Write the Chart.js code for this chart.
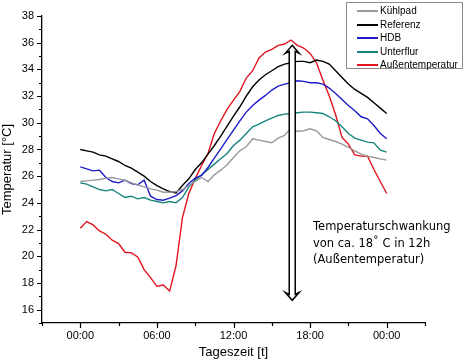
<!DOCTYPE html>
<html>
<head>
<meta charset="utf-8">
<script src="https://cdn.jsdelivr.net/npm/chart.js@4.4.0/dist/chart.umd.min.js"></script>
<style>
  html, body { margin: 0; padding: 0; background: #fff; }
  #wrap { position: relative; width: 465px; height: 360px; }
  #legend { position: absolute; left: 346px; top: 2px; width: 115px; height: 65px;
    border: 1px solid #8a8a8a; background: #fff; font: 10px "Liberation Sans", Arial, sans-serif; color: #000; }
  #legend .row { position: absolute; left: 0; height: 13px; line-height: 13px; white-space: nowrap; }
  #legend .sw { position: absolute; left: 10px; top: 6px; width: 21px; height: 2px; }
  #legend .tx { position: absolute; left: 33px; top: 0; }
  #note { position: absolute; left: 313px; top: 218px; font: 11.5px "DejaVu Sans", Verdana, sans-serif;
    line-height: 16.5px; color: #000; white-space: nowrap; }
</style>
</head>
<body>
<div id="wrap">
  <canvas id="c" width="465" height="360"></canvas>
  <div id="legend"></div>
  <div id="note"></div>
</div>
<script>
// ---- data ----
const hours = [0,0.5,1,1.5,2,2.5,3,3.5,4,4.5,5,5.5,6,6.5,7,7.5,8,8.5,9,9.5,10,10.5,11,11.5,12,12.5,13,13.5,14,14.5,15,15.5,16,16.5,17,17.5,18,18.5,19,19.5,20,20.5,21,21.5,22,22.5,23,23.5,24];
const seriesNames = ['Kühlpad','Referenz','HDB','Unterflur','Außentemperatur'];
const kuehlpad = [25.6,25.65,25.7,25.75,25.85,25.9,25.8,25.7,25.5,25.35,25.2,25.05,24.95,24.8,24.8,24.85,25.0,25.3,25.6,25.9,25.6,26.1,26.45,26.85,27.4,27.9,28.2,28.8,28.7,28.6,28.5,28.85,29.05,29.6,29.35,29.4,29.55,29.4,28.9,28.75,28.6,28.4,28.15,27.9,27.65,27.5,27.4,27.3,27.2];
const referenz = [28.0,27.9,27.8,27.6,27.5,27.3,27.1,26.8,26.6,26.3,26.0,25.6,25.3,25.05,24.85,24.75,25.3,25.8,26.5,27.0,27.65,28.3,29.0,29.75,30.5,31.2,32.0,32.7,33.2,33.6,33.9,34.2,34.4,34.5,34.6,34.6,34.5,34.7,34.6,34.4,33.9,33.4,32.9,32.5,32.2,31.9,31.5,31.1,30.7];
const hdb = [26.7,26.55,26.4,26.45,25.9,25.6,25.5,25.7,25.45,25.35,25.7,24.5,24.25,24.2,24.35,24.55,24.9,25.45,25.85,26.05,26.65,27.35,28.05,28.75,29.45,30.15,30.8,31.3,31.7,32.05,32.45,32.75,32.9,33.0,33.15,33.1,33.0,33.0,32.9,32.6,32.2,31.75,31.3,30.9,30.45,30.3,29.8,29.2,28.8];
const unterflur = [25.5,25.4,25.2,25.0,24.9,25.0,24.7,24.4,24.5,24.3,24.4,24.2,24.1,24.0,24.1,24.0,24.4,25.2,25.7,26.1,26.5,26.9,27.3,27.7,28.3,28.7,29.2,29.7,29.9,30.15,30.35,30.55,30.65,30.7,30.75,30.8,30.8,30.75,30.7,30.45,30.15,29.7,29.2,28.85,28.7,28.55,28.5,27.95,27.8];
const aussen = [22.1,22.6,22.35,21.9,21.65,21.2,20.95,20.3,20.25,19.95,19.0,18.4,17.75,17.85,17.4,19.3,22.9,24.7,25.8,26.8,27.7,29.2,30.15,31.0,31.7,32.35,33.35,33.9,34.85,35.3,35.5,35.8,35.9,36.2,35.8,35.6,35.2,34.5,33.2,32.0,30.6,28.9,28.4,27.6,27.5,27.5,26.5,25.6,24.7];
const seriesColors = ['#9a9a9a','#000000','#1c1cc8','#14857c','#e0141e'];
const xTickValues = [0,6,12,18,24];
const xTickLabels = ['00:00','06:00','12:00','18:00','00:00'];
const xMinorValues = [-3,3,9,15,21,27];
const yTickValues = [16,18,20,22,24,26,28,30,32,34,36,38];
const yMinorValues = [15,17,19,21,23,25,27,29,31,33,35,37];
const arrowHour = 16.6, arrowTop = 35.8, arrowBottom = 16.7;
const noteLines = ['Temperaturschwankung','von ca. 18˚  C in 12h','(Außentemperatur)'];

const allSeries = [kuehlpad, referenz, hdb, unterflur, aussen];
const datasets = allSeries.map((vals, i) => ({
  label: seriesNames[i],
  data: hours.map((h, j) => ({x: h, y: vals[j]})),
  borderColor: seriesColors[i],
  borderWidth: 1.4,
  pointRadius: 0,
  tension: 0,
  fill: false
}));

const tickPlugin = {
  id: 'minorTicks',
  afterDraw(chart) {
    const ctx = chart.ctx, xs = chart.scales.x, ys = chart.scales.y;
    const ca = chart.chartArea;
    ctx.save();
    ctx.strokeStyle = '#000';
    ctx.lineWidth = 1.2;
    ctx.beginPath();
    xTickValues.forEach(v => { const p = Math.round(xs.getPixelForValue(v)) + 0.5; ctx.moveTo(p, ca.bottom); ctx.lineTo(p, ca.bottom + 5); });
    xMinorValues.forEach(v => { const p = Math.round(xs.getPixelForValue(v)) + 0.5; ctx.moveTo(p, ca.bottom); ctx.lineTo(p, ca.bottom + 3); });
    yTickValues.forEach(v => { const p = Math.round(ys.getPixelForValue(v)) + 0.5; ctx.moveTo(ca.left, p); ctx.lineTo(ca.left - 5, p); });
    yMinorValues.forEach(v => { const p = Math.round(ys.getPixelForValue(v)) + 0.5; ctx.moveTo(ca.left, p); ctx.lineTo(ca.left - 3, p); });
    ctx.stroke();
    ctx.restore();
  },
  afterDatasetsDraw(chart) {
    const ctx = chart.ctx, xs = chart.scales.x, ys = chart.scales.y;
    const x = xs.getPixelForValue(arrowHour);
    const yT = ys.getPixelForValue(arrowTop);
    const yB = ys.getPixelForValue(arrowBottom);
    const hw = 3, head = 7, hh = 8;
    ctx.save();
    ctx.beginPath();
    ctx.moveTo(x, yT);
    ctx.lineTo(x + head, yT + hh);
    ctx.lineTo(x + hw, yT + hh - 2);
    ctx.lineTo(x + hw, yB - hh + 2);
    ctx.lineTo(x + head, yB - hh);
    ctx.lineTo(x, yB);
    ctx.lineTo(x - head, yB - hh);
    ctx.lineTo(x - hw, yB - hh + 2);
    ctx.lineTo(x - hw, yT + hh - 2);
    ctx.lineTo(x - head, yT + hh);
    ctx.closePath();
    ctx.fillStyle = '#fff';
    ctx.fill();
    ctx.strokeStyle = '#000';
    ctx.lineWidth = 1.5;
    ctx.lineJoin = 'miter';
    ctx.stroke();
    ctx.restore();
  }
};

new Chart(document.getElementById('c'), {
  type: 'line',
  data: { datasets },
  plugins: [tickPlugin],
  options: {
    responsive: false,
    animation: false,
    events: [],
    layout: { padding: { top: 16, right: 40, left: 0, bottom: 0 } },
    plugins: { legend: { display: false }, tooltip: { enabled: false } },
    scales: {
      x: {
        type: 'linear', min: -3, max: 27,
        afterFit: s => { s.height = 37; },
        afterBuildTicks: s => { s.ticks = xTickValues.map(v => ({ value: v })); },
        grid: { display: false, drawTicks: false },
        border: { display: true, color: '#000', width: 1.3 },
        ticks: { padding: 6, color: '#000', font: { family: 'Liberation Sans', size: 11 },
          autoSkip: false, maxRotation: 0,
          callback: v => { const i = xTickValues.indexOf(v); return i >= 0 ? xTickLabels[i] : ''; } },
        title: { display: true, text: 'Tageszeit [t]', color: '#000', padding: { top: 2, bottom: 0 },
          font: { family: 'Liberation Sans', size: 13 } }
      },
      y: {
        type: 'linear', min: 15, max: 38,
        afterFit: s => { s.width = 42; },
        afterBuildTicks: s => { s.ticks = yTickValues.map(v => ({ value: v })); },
        grid: { display: false, drawTicks: false },
        border: { display: true, color: '#000', width: 1.3 },
        ticks: { padding: 8, color: '#000', font: { family: 'Liberation Sans', size: 11 }, autoSkip: false },
        title: { display: true, text: 'Temperatur [°C]', color: '#000', padding: { top: 0, bottom: 0 },
          font: { family: 'Liberation Sans', size: 13 } }
      }
    }
  }
});

// HTML legend and annotation built from the same arrays
const leg = document.getElementById('legend');
seriesNames.forEach((n, i) => {
  const r = document.createElement('div');
  r.className = 'row';
  r.style.top = (1 + i * 13.5) + 'px';
  r.innerHTML = '<span class="sw" style="background:' + seriesColors[i] + '"></span><span class="tx"></span>';
  r.querySelector('.tx').textContent = n;
  leg.appendChild(r);
});
const note = document.getElementById('note');
noteLines.forEach(t => { const d = document.createElement('div'); d.textContent = t; note.appendChild(d); });
</script>
</body>
</html>
